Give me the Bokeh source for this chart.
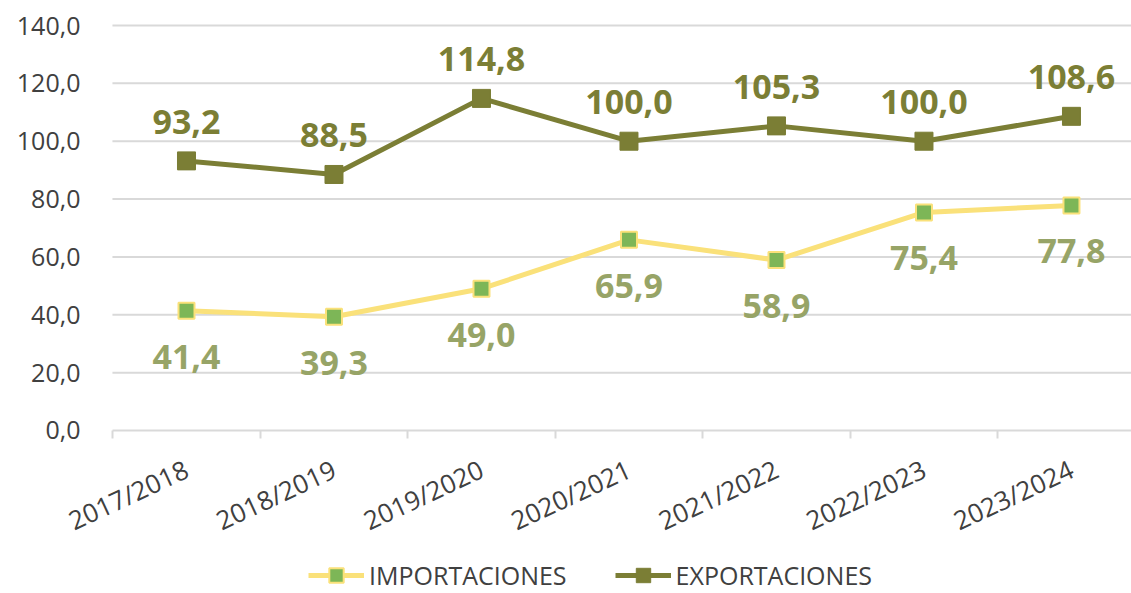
from bokeh.plotting import figure
from bokeh.models import (Range1d, FixedTicker, Legend, LegendItem, ColumnDataSource)
from bokeh.core.properties import value
from bokeh.embed import file_html
from bokeh.resources import INLINE
import math

categories = ["2017/2018", "2018/2019", "2019/2020", "2020/2021", "2021/2022", "2022/2023", "2023/2024"]
importaciones = [41.4, 39.3, 49.0, 65.9, 58.9, 75.4, 77.8]
exportaciones = [93.2, 88.5, 114.8, 100.0, 105.3, 100.0, 108.6]
y_ticks = [0, 20, 40, 60, 80, 100, 120, 140]

FONT = "Open Sans"
EXP_COLOR = "#7B7E35"
IMP_LINE = "#FAE17A"
IMP_FILL = "#7DB657"
IMP_LABEL = "#97A467"
GRID = "#D9D9D9"
TXT = "#404040"

X_LEFT = -0.502   # left edge of the plotting area (category boundary)
X_END = 6.407

def fmt(v):
    return f"{v:.1f}".replace(".", ",")

xs = list(range(len(categories)))
src_imp = ColumnDataSource(dict(x=xs, y=importaciones, lbl=[fmt(v) for v in importaciones]))
src_exp = ColumnDataSource(dict(x=xs, y=exportaciones, lbl=[fmt(v) for v in exportaciones]))

p = figure(width=1131, height=593, output_backend="svg", toolbar_location=None,
           x_range=Range1d(-1.261, X_END), y_range=Range1d(-56.35, 144.15),
           min_border_left=0, min_border_right=0, min_border_top=13, min_border_bottom=0)
p.outline_line_color = None
p.background_fill_color = "white"
p.border_fill_color = "white"

p.xgrid.grid_line_color = None
p.ygrid.grid_line_color = None

grid_y = y_ticks[1:]
p.segment(x0=[X_LEFT] * len(grid_y), x1=[X_END] * len(grid_y), y0=grid_y, y1=grid_y,
          line_color=GRID, line_width=2, level="underlay")

p.yaxis.fixed_location = X_LEFT
p.yaxis.ticker = FixedTicker(ticks=y_ticks)
p.yaxis.major_label_overrides = {t: fmt(t) for t in y_ticks}
p.yaxis.axis_line_color = None
p.yaxis.major_tick_line_color = None
p.yaxis.minor_tick_line_color = None
p.yaxis.major_label_standoff = 26
p.yaxis.major_label_text_font = FONT
p.yaxis.major_label_text_font_size = "25px"
p.yaxis.major_label_text_color = TXT

p.xaxis.fixed_location = 0
p.xaxis.bounds = (X_LEFT, X_END)
p.xaxis.ticker = FixedTicker(ticks=xs, minor_ticks=[i - 0.5 for i in range(len(categories) + 1)])
p.xaxis.major_label_overrides = {i: c for i, c in enumerate(categories)}
p.xaxis.axis_line_color = GRID
p.xaxis.axis_line_width = 2
p.xaxis.major_tick_line_color = None
p.xaxis.major_tick_out = 0
p.xaxis.major_tick_in = 0
p.xaxis.minor_tick_line_color = GRID
p.xaxis.minor_tick_line_width = 2
p.xaxis.minor_tick_out = 8
p.xaxis.minor_tick_in = 0
p.xaxis.major_label_orientation = 25 * math.pi / 180
p.xaxis.major_label_standoff = 29
p.xaxis.major_label_text_font = FONT
p.xaxis.major_label_text_font_size = "26px"
p.xaxis.major_label_text_color = TXT

l_imp = p.line("x", "y", source=src_imp, line_color=IMP_LINE, line_width=5)
s_imp = p.scatter("x", "y", source=src_imp, marker="square", size=16,
                  fill_color=IMP_FILL, line_color=IMP_LINE, line_width=2)
l_exp = p.line("x", "y", source=src_exp, line_color=EXP_COLOR, line_width=5)
s_exp = p.scatter("x", "y", source=src_exp, marker="square", size=18,
                  fill_color=EXP_COLOR, line_color=EXP_COLOR, line_width=1)

p.text("x", "y", text="lbl", source=src_exp, y_offset=-39, text_align="center",
       text_baseline="middle", text_font=value(FONT), text_font_style="bold",
       text_font_size="34px", text_color=EXP_COLOR)
p.text("x", "y", text="lbl", source=src_imp, y_offset=46, text_align="center",
       text_baseline="middle", text_font=value(FONT), text_font_style="bold",
       text_font_size="34px", text_color=IMP_LABEL)

legend = Legend(items=[LegendItem(label="IMPORTACIONES", renderers=[l_imp, s_imp]),
                       LegendItem(label="EXPORTACIONES", renderers=[l_exp, s_exp])],
                location=(308, 0), orientation="horizontal",
                glyph_width=56, glyph_height=36, label_height=25, label_standoff=5,
                spacing=48, padding=0, margin=0,
                label_text_font=FONT, label_text_font_size="25px", label_text_color=TXT,
                background_fill_alpha=0, border_line_color=None)
p.add_layout(legend, "center")

open("out.html", "w").write(file_html(p, INLINE))
